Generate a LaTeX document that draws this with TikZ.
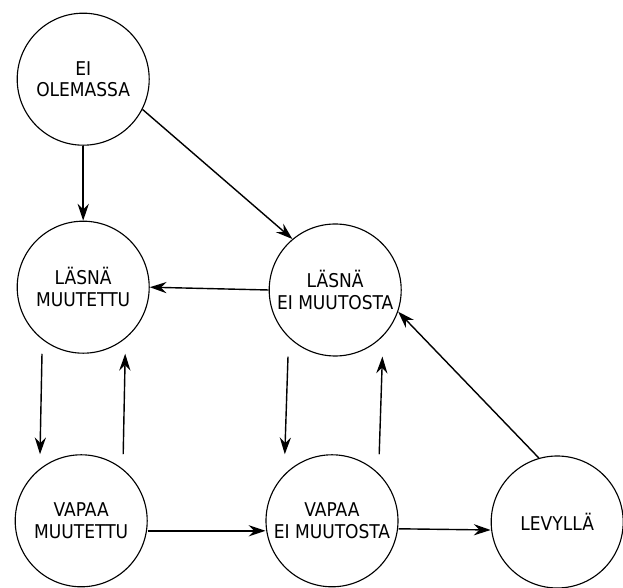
\documentclass[tikz,border=0pt]{standalone}
\usepackage{fontspec}
\setmainfont{DejaVu Sans Condensed}
\usepackage{tikz}
\usetikzlibrary{positioning,calc,arrows.meta}
\tikzset{>={Stealth[length=4.2mm,width=2.8mm,inset=1.4mm]}}
\tikzset{state/.style={draw,circle,line width=0.8pt,minimum size=3.3cm,inner sep=0pt,
  align=center,font=\fontsize{13.5}{15.5}\selectfont}}

\begin{document}
\begin{tikzpicture}[line width=1pt]
\useasboundingbox (0,0) rectangle (15.575,-14.7);
\node[state] (eio) at (2.08,-1.98) {EI\\OLEMASSA};
\node[state] (lm) at (2.08,-7.18) {LÄSNÄ\\MUUTETTU};
\node[state] (le) at (8.38,-7.25) {LÄSNÄ\\EI MUUTOSTA};
\node[state] (vm) at (2.03,-13.02) {VAPAA\\MUUTETTU};
\node[state] (ve) at (8.3,-13.02) {VAPAA\\EI MUUTOSTA};
\node[state] (lev) at (13.93,-13.05) {LEVYLLÄ};
\draw[->] (eio) -- (lm);
\draw[->] (eio.-27) -- (le.130);
\draw[->] (le.west) -- (lm.east);
\draw[->] ([xshift=-1.03cm]lm.south) -- ([xshift=-1.03cm]vm.north);
\draw[->] ([xshift=1.05cm]vm.north) -- ([xshift=1.05cm]lm.south);
\draw[->] ([xshift=-1.18cm]le.south) -- ([xshift=-1.18cm]ve.north);
\draw[->] ([xshift=1.18cm]ve.north) -- ([xshift=1.18cm]le.south);
\draw[->] ([yshift=-0.25cm]vm.east) -- ([yshift=-0.25cm]ve.west);
\draw[->] ([yshift=-0.2cm]ve.east) -- ([yshift=-0.2cm]lev.west);
\draw[->] (lev.106) -- (le.-19);
\end{tikzpicture}
\end{document}
